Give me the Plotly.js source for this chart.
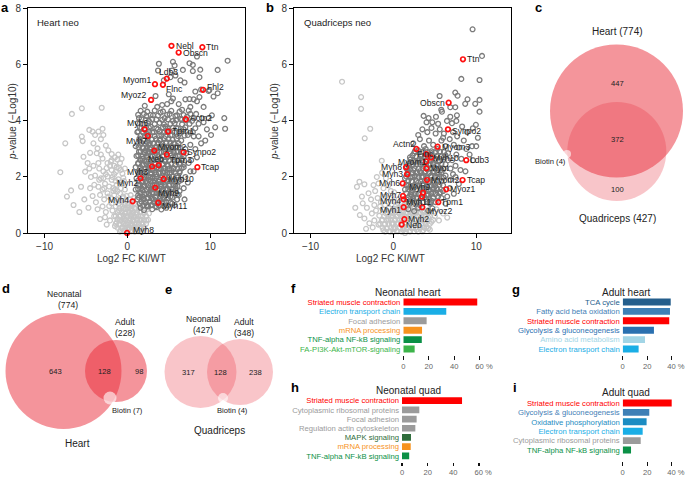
<!DOCTYPE html>
<html><head><meta charset="utf-8">
<script src="https://cdn.plot.ly/plotly-3.0.1.min.js"></script>
<style>body{margin:0;background:#fff}#chart{width:685px;height:477px}</style>
</head><body><div id="chart"></div>
<script>
const FONT = 'Liberation Sans, Arial, Helvetica, sans-serif';
const W = 685, H = 477;
const X = p => p / W, Y = p => 1 - p / H;

// ---------- Panel a: Heart neo volcano ----------
const aNs = [[-5.5,4.45],[-3.1,4.47],[-6.7,4.25],[-4.6,3.68],[-4.2,3.62],[-5.5,3.44],[-5.4,3.28],[-3.9,3.5],[-3.5,3.62],[-3.2,3.35],[-2.9,3.5],[-3.0,3.72],[-7.5,3.2],[-4.1,3.2],[-3.6,3.02],[-2.6,3.12],[-2.3,2.95],[-3.7,2.85],[-1.9,2.82],[-1.5,2.7],[-1.2,2.62],[-2.0,2.55],[-0.9,2.5],[-1.6,2.4],[-8.1,2.17],[-5.1,2.19],[-4.6,2.3],[-3.4,2.3],[-2.9,2.2],[-2.5,2.32],[-1.9,2.25],[-1.4,2.18],[-1.0,2.32],[-0.6,2.12],[-3.9,2.05],[-3.2,1.95],[-2.4,2.02],[-1.9,1.9],[-1.1,1.92],[-0.5,1.97],[-5.6,1.65],[-4.5,1.6],[-4.0,1.72],[-3.5,1.65],[-3.0,1.55],[-2.7,1.76],[-2.2,1.66],[-1.7,1.6],[-1.3,1.72],[-0.8,1.6],[-0.3,1.55],[-7.3,1.3],[-6.8,1.52],[-5.2,1.2],[-4.2,1.32],[-3.8,1.1],[-3.3,1.36],[-2.8,1.2],[-2.4,1.42],[-2.0,1.25],[-1.6,1.35],[-1.2,1.2],[-0.9,1.42],[-0.5,1.25],[-0.1,1.32],[0.3,1.2],[-4.7,0.9],[-3.6,0.85],[-3.0,0.95],[-2.6,0.75],[-2.2,0.96],[-1.8,0.8],[-1.4,0.95],[-1.0,0.8],[-0.6,0.95],[-0.2,0.85],[0.2,0.92],[0.6,0.8],[1.0,0.86],[-3.3,0.5],[-2.7,0.56],[-2.1,0.45],[-1.6,0.6],[-1.2,0.5],[-0.8,0.62],[-0.4,0.5],[0.0,0.56],[0.4,0.5],[0.8,0.57],[1.2,0.5],[1.6,0.6],[-1.5,0.25],[-1.0,0.3],[-0.6,0.2],[-0.2,0.3],[0.2,0.2],[0.6,0.3],[1.0,0.2],[1.4,0.3],[1.8,0.36],[-0.8,0.1],[-0.3,0.08],[0.1,0.12],[0.5,0.1],[0.9,0.13],[1.3,0.1],[-1.9,1.06],[-2.5,0.3],[1.5,0.95],[2.0,0.72],[-4.8,2.5],[-5.3,2.72],[-4.5,2.86],[-3.0,2.66],[-2.4,2.5],[-3.2,2.8],[-6.5,1.0],[-5.8,0.75],[-0.3,0.7],[0.8,1.05],[-0.5,0.4],[1.1,0.66],[0.5,0.7],[-1.1,1.05],[-0.4,1.05],[-0.7,0.75],[0.2,0.36],[1.6,0.15],[2.0,0.22],[2.3,0.45],[2.6,0.7],[2.4,0.95],[-1.3,0.38],[-0.9,0.45],[0.0,0.2],[0.35,0.62],[0.7,0.44],[1.1,0.35],[1.45,0.48],[-0.15,0.6],[-1.7,1.5],[-2.6,2.1],[-1.2,1.5],[-3.5,2.5],[-0.6,1.75],
[-1.8,2.0],[-1.4,1.85],[-0.9,1.8],[-0.4,1.85],[-1.6,2.1],[-0.8,2.25],[-0.3,2.3],[-1.3,2.35],[-0.7,2.65],[-1.1,2.8],[-0.5,1.3],[-0.1,1.15],[0.4,1.35],[-0.3,1.0],[0.1,1.0],[0.5,1.0],[0.8,1.25],[-1.5,1.55],[-0.9,1.15],[-2.3,1.3],[-2.8,1.6],[-2.1,2.4],[-1.9,2.6],[-3.4,1.9],[-2.9,1.95],[-4.1,2.4],[-4.4,2.0]];
const aNsCore = [[-0.9,0.05],[-0.45,0.06],[0.0,0.04],[0.45,0.06],[0.9,0.05],[1.35,0.06],[1.8,0.05],
[-1.2,0.19],[-0.7,0.17],[-0.25,0.19],[0.25,0.17],[0.7,0.19],[1.15,0.17],[1.6,0.19],[2.05,0.17],
[-1.4,0.33],[-0.95,0.31],[-0.45,0.33],[0.0,0.31],[0.45,0.33],[0.9,0.31],[1.35,0.33],[1.8,0.31],[2.25,0.33],
[-1.15,0.47],[-0.7,0.45],[-0.2,0.47],[0.25,0.45],[0.7,0.47],[1.15,0.45],[1.6,0.47],[2.05,0.45],[2.5,0.47],
[-1.4,0.61],[-0.95,0.59],[-0.45,0.61],[0.0,0.59],[0.45,0.61],[0.9,0.59],[1.35,0.61],[1.8,0.59],[2.25,0.61],
[-1.15,0.75],[-0.7,0.73],[-0.2,0.75],[0.25,0.73],[0.7,0.75],[1.15,0.73],[1.6,0.75],[2.05,0.73],
[-0.95,0.89],[-0.45,0.87],[0.0,0.89],[0.45,0.87],[0.9,0.89],[1.35,0.87]];
const aSig = [[12.1,6.15],[3.8,6.04],[5.5,6.11],[5.7,5.98],[7.5,6.06],[7.9,6.0],[8.4,6.3],[3.7,5.8],[5.4,5.8],[6.7,5.82],[7.9,5.78],[8.8,5.83],[10.9,5.82],[5.2,5.56],[5.8,5.62],[6.4,5.45],[6.9,5.37],[8.7,5.56],[4.4,5.45],[8.2,5.05],[8.9,5.12],[9.9,5.1],[10.9,4.99],[10.4,4.87],[9.8,5.07],[3.4,4.89],[5.0,4.95],[5.5,4.8],[5.3,4.7],[7.0,4.77],[7.5,4.78],[8.0,4.77],[8.4,4.7],[8.7,4.85],[2.1,4.54],[3.6,4.5],[4.2,4.57],[4.8,4.6],[6.2,4.6],[6.6,4.4],[7.6,4.5],[9.2,4.5],[10.6,3.77],[11.8,3.72],[11.7,4.1],[10.1,3.5],[9.6,3.7],[10.2,4.2],[9.0,4.1],[8.6,3.9],
[1.4,4.1],[2.0,4.25],[2.6,4.0],[3.1,4.2],[3.5,4.05],[4.0,4.3],[4.5,4.1],[5.1,4.25],[5.5,4.0],[6.0,4.2],[6.6,4.05],[7.2,4.15],[7.8,4.0],[8.3,4.25],[9.2,3.95],[9.8,4.1],
[1.2,3.6],[1.7,3.75],[2.3,3.55],[2.8,3.8],[3.2,3.6],[3.7,3.7],[4.1,3.5],[4.6,3.8],[5.0,3.65],[5.4,3.5],[5.9,3.75],[6.3,3.55],[6.8,3.7],[7.3,3.5],[7.9,3.6],[8.6,3.45],[9.4,3.3],
[1.0,3.1],[1.5,3.3],[1.9,3.05],[2.4,3.25],[2.7,3.0],[3.1,3.2],[3.5,3.05],[3.9,3.3],[4.3,3.1],[4.7,3.25],[5.1,3.0],[5.6,3.2],[6.0,3.1],[6.5,3.3],[7.0,3.0],[7.6,3.15],[8.2,3.0],[8.9,3.2],
[1.1,2.75],[1.4,2.9],[1.8,2.65],[2.1,2.85],[2.5,2.7],[2.9,2.9],[3.2,2.6],[3.6,2.8],[4.0,2.65],[4.4,2.9],[4.8,2.7],[5.2,2.85],[5.7,2.6],[6.1,2.75],[6.6,2.65],[7.1,2.85],[7.7,2.6],[8.4,2.7],
[1.0,2.35],[1.3,2.5],[1.7,2.25],[2.0,2.45],[2.4,2.2],[2.7,2.4],[3.0,2.25],[3.4,2.5],[3.8,2.3],[4.2,2.45],[4.5,2.2],[4.9,2.4],[5.3,2.25],[5.8,2.45],[6.3,2.2],[6.8,2.35],[7.4,2.5],[8.0,2.2],
[1.1,1.95],[1.4,2.1],[1.7,1.85],[2.1,2.05],[2.4,1.8],[2.8,2.0],[3.1,1.85],[3.5,2.1],[3.9,1.9],[4.2,2.05],[4.6,1.8],[5.0,2.0],[5.5,1.85],[6.0,2.05],[6.5,1.9],[7.0,2.0],
[1.0,1.55],[1.3,1.7],[1.6,1.45],[1.9,1.65],[2.3,1.4],[2.6,1.6],[3.0,1.45],[3.3,1.7],[3.7,1.5],[4.1,1.65],[4.4,1.4],[4.8,1.6],[5.3,1.45],[5.8,1.65],[6.3,1.5],[6.8,1.6],
[1.2,1.2],[1.5,1.05],[1.8,1.3],[2.2,1.1],[2.5,1.25],[2.9,1.0],[3.2,1.2],[3.6,1.05],[4.0,1.3],[4.4,1.1],[4.9,1.25],[5.4,1.05],[6.0,1.2],
[1.6,0.9],[2.0,0.82],[2.5,0.95],[3.0,0.85],[3.5,0.92],[4.1,0.84],[4.7,0.9],
[1.55,3.15],[2.2,2.95],[2.6,3.15],[3.3,2.95],[3.75,3.2],[4.5,3.0],[5.3,3.1],[5.9,2.9],[1.6,2.6],[2.3,2.55],[3.05,2.75],[3.8,2.55],[4.6,2.55],[5.5,2.7],[6.4,2.5],[1.5,2.2],[2.2,2.3],[2.9,2.1],[3.6,2.35],[4.35,2.3],[5.1,2.15],[5.6,2.3],[1.9,1.95],[2.6,1.9],[3.3,1.95],[4.0,1.75],[4.8,1.9],[5.8,1.75],[1.7,1.6],[2.4,1.55],[3.1,1.6],[3.9,1.4],[4.6,1.55],[5.5,1.55],[2.0,1.2],[2.7,1.35],[3.4,1.3],[4.2,1.2],[4.7,1.35],[5.2,1.3],[1.3,1.35],[2.35,1.0],[3.8,1.0],[6.2,1.35],[7.3,1.8],[7.6,2.2],[6.9,1.2],[5.7,1.0]];
const aSigCore = [[1.45,3.37],[1.95,3.33],[2.45,3.38],[2.95,3.34],[3.45,3.36],[3.95,3.33],[4.45,3.38],[4.95,3.35],[5.45,3.33],[5.95,3.37],
[1.7,3.22],[2.2,3.18],[2.7,3.21],[3.2,3.19],[3.7,3.23],[4.2,3.18],[4.7,3.2],[5.2,3.22],[5.7,3.18],[6.2,3.2],
[1.35,3.06],[1.85,3.03],[2.35,3.07],[2.85,3.04],[3.35,3.06],[3.85,3.03],[4.35,3.07],[4.85,3.05],[5.35,3.03],[5.85,3.06],[6.35,3.04],
[1.6,2.92],[2.1,2.88],[2.6,2.91],[3.1,2.89],[3.6,2.93],[4.1,2.88],[4.6,2.9],[5.1,2.92],[5.6,2.88],[6.1,2.91],[6.6,2.89],
[1.3,2.77],[1.8,2.73],[2.3,2.76],[2.8,2.74],[3.3,2.77],[3.8,2.73],[4.3,2.76],[4.8,2.74],[5.3,2.77],[5.8,2.73],[6.3,2.76],[6.8,2.74],
[1.55,2.62],[2.05,2.58],[2.55,2.61],[3.05,2.59],[3.55,2.62],[4.05,2.58],[4.55,2.61],[5.05,2.59],[5.55,2.62],[6.05,2.58],[6.55,2.61],
[1.3,2.47],[1.8,2.43],[2.3,2.46],[2.8,2.44],[3.3,2.47],[3.8,2.43],[4.3,2.46],[4.8,2.44],[5.3,2.47],[5.8,2.43],[6.3,2.46],[6.8,2.44],
[1.55,2.32],[2.05,2.28],[2.55,2.31],[3.05,2.29],[3.55,2.32],[4.05,2.28],[4.55,2.31],[5.05,2.29],[5.55,2.32],[6.05,2.28],[6.55,2.31],
[1.3,2.17],[1.8,2.13],[2.3,2.16],[2.8,2.14],[3.3,2.17],[3.8,2.13],[4.3,2.16],[4.8,2.14],[5.3,2.17],[5.8,2.13],[6.3,2.16],
[1.55,2.02],[2.05,1.98],[2.55,2.01],[3.05,1.99],[3.55,2.02],[4.05,1.98],[4.55,2.01],[5.05,1.99],[5.55,2.02],[6.05,1.98],
[1.3,1.87],[1.8,1.83],[2.3,1.86],[2.8,1.84],[3.3,1.87],[3.8,1.83],[4.3,1.86],[4.8,1.84],[5.3,1.87],[5.8,1.83],[6.3,1.86],
[1.55,1.72],[2.05,1.68],[2.55,1.71],[3.05,1.69],[3.55,1.72],[4.05,1.68],[4.55,1.71],[5.05,1.69],[5.55,1.72],[6.05,1.68],
[1.3,1.57],[1.8,1.53],[2.3,1.56],[2.8,1.54],[3.3,1.57],[3.8,1.53],[4.3,1.56],[4.8,1.54],[5.3,1.57],[5.8,1.53],
[1.55,1.42],[2.05,1.38],[2.55,1.41],[3.05,1.39],[3.55,1.42],[4.05,1.38],[4.55,1.41],[5.05,1.39],[5.55,1.42],[6.05,1.38],
[1.4,1.27],[1.9,1.23],[2.4,1.26],[2.9,1.24],[3.4,1.27],[3.9,1.23],[4.4,1.26],[4.9,1.24],[5.4,1.27],
[1.7,1.12],[2.2,1.08],[2.7,1.11],[3.2,1.09],[3.7,1.12],[4.2,1.08],[4.7,1.11],[5.2,1.09],
[1.9,0.98],[2.4,0.96],[2.9,0.99],[3.4,0.96],[3.9,0.98],[4.4,0.96],[4.9,0.99]];
const aSigUpper = [[1.6,4.36],[2.4,4.33],[3.3,4.37],[4.3,4.34],[5.3,4.36],[6.3,4.33],[7.4,4.37],
[1.3,4.22],[2.3,4.18],[2.8,4.21],[3.7,4.19],[4.8,4.22],[5.8,4.18],[6.8,4.21],[7.6,4.25],
[1.7,4.06],[2.2,4.03],[3.0,4.07],[4.2,4.04],[4.9,4.06],[5.9,4.03],[6.4,4.07],[7.1,4.02],[8.0,4.1],
[1.25,3.92],[1.9,3.88],[2.5,3.91],[3.3,3.89],[3.9,3.93],[4.4,3.88],[5.2,3.9],[5.7,3.92],[6.6,3.88],[7.5,3.9],
[1.5,3.77],[2.1,3.73],[2.6,3.76],[3.5,3.74],[4.3,3.77],[4.9,3.73],[5.5,3.76],[6.1,3.74],[7.0,3.77],[8.2,3.74],
[1.3,3.62],[1.9,3.58],[2.6,3.61],[3.0,3.59],[3.9,3.62],[4.4,3.58],[4.8,3.61],[5.7,3.59],[6.6,3.62],[7.6,3.58],
[1.6,3.48],[2.1,3.46],[2.5,3.49],[3.3,3.46],[3.8,3.48],[4.6,3.46],[5.2,3.49],[6.1,3.46],[6.9,3.48],[8.0,3.45]];
const aHitGenes = ['Nebl','Ttn','Obscn','Ldb3','Myom1','Flnc','Fhl2','Myoz2','Actn2','Myh6','Tpm1','Myh7','Myom2','Synpo2','Tpm3','Neb','Myh3','Tcap','Myh2','Myh10','Myh9','Myh4','Myh11','Myh8'];
const aHitX = [5.32,9.05,6.19,4.76,3.33,4.29,9.13,2.86,7.06,2.06,4.92,2.46,3.25,6.79,4.76,3.77,2.98,8.45,1.59,4.37,3.37,0.63,3.73,-0.04];
const aHitY = [6.68,6.63,6.44,5.51,5.31,5.29,5.11,4.75,4.06,3.70,3.62,3.46,2.94,2.88,2.80,2.42,2.37,2.35,1.95,1.93,1.62,1.13,1.08,0.0];

// ---------- Panel b: Quadriceps neo volcano ----------
const bNs = [[-6.2,5.4],[-3.9,4.85],[-3.9,4.43],[-2.8,3.72],[-3.46,3.38],[-1.4,2.58],[-1.36,2.15],[-4.1,1.83],[-3.5,1.74],[-2.4,1.71],[-1.8,1.77],[-4.4,1.65],[-3.0,1.42],[-2.2,1.5],[-1.2,1.6],[-0.6,1.7],[-3.7,1.06],[-3.2,0.9],[-4.05,0.64],[-3.5,0.52],[-2.7,1.2],[-2.3,1.0],[-1.9,1.25],[-1.5,1.1],[-1.0,1.3],[-0.6,1.1],[-0.2,1.25],[0.2,1.1],[0.6,1.2],[1.0,1.05],[-2.6,0.7],[-2.1,0.8],[-1.7,0.62],[-1.3,0.85],[-0.9,0.7],[-0.5,0.88],[-0.1,0.72],[0.3,0.85],[0.7,0.7],[1.1,0.82],[1.5,0.7],[1.9,0.85],[2.3,0.7],[2.7,0.82],[3.1,0.68],[3.5,0.8],[-2.9,0.35],[-2.3,0.45],[-1.8,0.3],[-1.4,0.45],[-1.0,0.32],[-0.6,0.5],[-0.2,0.35],[0.2,0.5],[0.6,0.35],[1.0,0.5],[1.4,0.38],[1.8,0.52],[2.2,0.38],[2.6,0.5],[3.0,0.36],[3.4,0.52],[3.8,0.4],[4.2,0.55],[4.6,0.4],[5.0,0.6],[5.5,0.45],[-1.2,0.1],[-0.8,0.15],[-0.4,0.05],[0.0,0.15],[0.4,0.08],[0.8,0.18],[1.2,0.1],[1.6,0.2],[2.0,0.08],[2.4,0.2],[2.8,0.12],[3.2,0.22],[3.6,0.1],[4.0,0.2],[4.4,0.12],[0.5,0.6],[-0.3,0.6],[1.3,0.62],[2.1,0.6],[2.9,0.6],[3.7,0.62],[4.5,0.75],[5.2,0.85],[6.0,0.7],[6.5,0.55],[0.9,0.92],[1.7,0.95],[-2.0,2.0],[-0.9,1.95],[-3.8,1.3],[-4.6,0.9],[-3.3,0.15],[-2.5,0.2],[1.4,0.0],[0.0,0.35],[-1.6,0.95],[0.1,1.45],[-0.3,1.5]];
const bNsCore = [[-1.0,0.05],[-0.5,0.06],[0.0,0.04],[0.5,0.06],[1.0,0.05],[1.5,0.06],[2.0,0.05],[2.5,0.06],[3.0,0.05],[3.5,0.06],
[-1.3,0.19],[-0.8,0.17],[-0.3,0.19],[0.2,0.17],[0.7,0.19],[1.2,0.17],[1.7,0.19],[2.2,0.17],[2.7,0.19],[3.2,0.17],[3.7,0.19],[4.2,0.17],
[-1.6,0.33],[-1.1,0.31],[-0.6,0.33],[-0.1,0.31],[0.4,0.33],[0.9,0.31],[1.4,0.33],[1.9,0.31],[2.4,0.33],[2.9,0.31],[3.4,0.33],[3.9,0.31],[4.4,0.33],
[-1.3,0.47],[-0.8,0.45],[-0.3,0.47],[0.2,0.45],[0.7,0.47],[1.2,0.45],[1.7,0.47],[2.2,0.45],[2.7,0.47],[3.2,0.45],[3.7,0.47],[4.2,0.45],[4.8,0.47],
[-1.1,0.61],[-0.6,0.59],[-0.1,0.61],[0.4,0.59],[0.9,0.61],[1.4,0.59],[1.9,0.61],[2.4,0.59],[2.9,0.61],[3.4,0.59],[3.9,0.61],[4.4,0.59],
[-0.8,0.75],[-0.3,0.73],[0.2,0.75],[0.7,0.73],[1.2,0.75],[1.7,0.73],[2.2,0.75],[2.7,0.73],[3.2,0.75],[3.7,0.73],[4.2,0.75],
[-0.5,0.89],[0.0,0.87],[0.5,0.89],[1.0,0.87],[1.5,0.89],[2.0,0.87],[2.5,0.89],[3.0,0.87],[3.5,0.89],
[-1.0,1.0],[0.3,1.0],[1.3,1.0]];
const bSig = [[9.56,7.27],[10.7,6.32],[8.2,5.5],[10.4,5.46],[5.58,4.89],[7.47,5.01],[7.75,4.9],[8.95,4.77],[10.4,4.75],[9.88,4.61],[8.67,4.61],[10.4,4.33],[6.87,4.49],[7.47,4.49],[5.86,4.33],[5.78,4.4],[3.65,4.18],[4.25,4.1],[5.14,4.15],[6.87,4.15],[7.67,4.2],[6.47,4.0],[7.6,4.0],[7.07,3.92],[9.96,3.86],[9.6,3.74],[4.0,3.95],[4.7,3.95],[5.4,3.9],[8.3,3.8],[8.9,3.6],[10.2,3.4],[9.5,3.1],[10.0,3.1],[9.2,2.8],[8.5,3.3],
[3.0,3.5],[3.5,3.7],[4.1,3.6],[4.6,3.75],[5.1,3.55],[5.6,3.7],[6.1,3.55],[7.2,3.6],[7.7,3.45],
[2.4,3.2],[3.2,3.35],[3.7,3.1],[4.3,3.3],[4.8,3.15],[5.8,3.3],[6.3,3.1],[6.8,3.35],[7.3,3.15],[7.9,3.05],[8.8,3.0],
[2.0,2.7],[2.5,2.85],[3.2,2.65],[3.6,2.9],[4.6,2.85],[5.1,2.65],[5.6,2.9],[6.1,2.7],[6.6,2.85],[7.1,2.6],[7.6,2.8],[8.2,2.65],[9.6,2.6],
[1.6,2.35],[2.0,2.5],[2.4,2.25],[2.8,2.45],[3.2,2.2],[3.6,2.4],[4.5,2.45],[4.9,2.2],[5.3,2.4],[5.8,2.25],[6.3,2.45],[6.9,2.3],[7.5,2.4],[8.1,2.25],[8.7,2.2],
[1.4,1.95],[1.8,2.1],[2.2,1.85],[2.6,2.05],[3.0,1.8],[3.4,2.0],[3.8,1.85],[4.5,2.05],[4.9,1.8],[5.3,2.0],[5.8,1.85],[6.3,2.05],[6.9,1.9],[7.5,2.0],[7.9,1.75],
[1.4,1.55],[1.8,1.7],[2.2,1.45],[2.6,1.65],[3.0,1.4],[3.3,1.6],[4.0,1.5],[4.4,1.65],[4.8,1.45],[5.2,1.6],[5.7,1.45],[6.0,1.7],[6.8,1.6],[7.3,1.4],
[1.6,1.2],[2.0,1.05],[2.4,1.25],[2.8,1.1],[3.2,1.0],[4.0,1.2],[4.4,1.05],[4.8,1.25],[5.1,1.1],[5.8,1.25],[6.3,1.05],
[1.8,0.85],[2.5,0.78],[3.0,0.9],[4.2,0.8],[4.7,0.88],
[1.7,2.25],[2.3,2.0],[2.9,2.15],[3.5,1.75],[4.1,1.95],[4.6,2.3],[5.5,2.1],[2.1,1.6],[2.7,1.4],[3.6,1.55],[4.2,1.35],[4.9,1.6],[5.4,1.3],[2.3,1.15],[3.5,1.25],[4.6,1.15],[1.9,2.4],[2.7,2.55],[3.4,2.6],[4.1,2.75],[4.8,2.5],[5.5,2.55],[3.0,2.95],[3.9,3.0],[5.3,3.0],[6.0,3.4],[2.2,1.35],[3.9,2.2],[6.0,1.5],[6.5,1.3],[7.2,2.1],[6.6,2.6]];
const bSigCore = [[2.6,2.92],[3.1,2.88],[3.6,2.91],[4.1,2.89],[4.6,2.92],[5.1,2.88],[5.6,2.91],[6.1,2.89],
[2.3,2.77],[2.8,2.73],[3.3,2.76],[3.8,2.74],[4.3,2.77],[4.8,2.73],[5.3,2.76],[5.8,2.74],[6.3,2.77],
[2.05,2.62],[2.55,2.58],[3.05,2.61],[3.55,2.59],[4.05,2.62],[4.55,2.58],[5.05,2.61],[5.55,2.59],[6.05,2.62],
[1.8,2.47],[2.3,2.43],[2.8,2.46],[3.3,2.44],[3.8,2.47],[4.3,2.43],[4.8,2.46],[5.3,2.44],[5.8,2.47],
[1.55,2.32],[2.05,2.28],[2.55,2.31],[3.05,2.29],[3.55,2.32],[4.05,2.28],[4.55,2.31],[5.05,2.29],[5.55,2.32],[6.05,2.28],
[1.8,2.17],[2.3,2.13],[2.8,2.16],[3.3,2.14],[3.8,2.17],[4.3,2.13],[4.8,2.16],[5.3,2.14],[5.8,2.17],
[1.55,2.02],[2.05,1.98],[2.55,2.01],[3.05,1.99],[3.55,2.02],[4.05,1.98],[4.55,2.01],[5.05,1.99],[5.55,2.02],[6.05,1.98],
[1.8,1.87],[2.3,1.83],[2.8,1.86],[3.3,1.84],[3.8,1.87],[4.3,1.83],[4.8,1.86],[5.3,1.84],[5.8,1.87],
[1.55,1.72],[2.05,1.68],[2.55,1.71],[3.05,1.69],[3.55,1.72],[4.05,1.68],[4.55,1.71],[5.05,1.69],[5.55,1.72],
[1.8,1.57],[2.3,1.53],[2.8,1.56],[3.3,1.54],[3.8,1.57],[4.3,1.53],[4.8,1.56],[5.3,1.54],
[1.55,1.42],[2.05,1.38],[2.55,1.41],[3.05,1.39],[3.55,1.42],[4.05,1.38],[4.55,1.41],[5.05,1.39],[5.55,1.42],
[1.8,1.27],[2.3,1.23],[2.8,1.26],[3.3,1.24],[3.8,1.27],[4.3,1.23],[4.8,1.26],
[2.05,1.12],[2.55,1.08],[3.05,1.11],[3.55,1.09],[4.05,1.12],[4.55,1.08]];
const bHitGenes = ['Ttn','Obscn','Synpo2','Actn2','Myom3','Flnc','Myh10','Myom1','Myot','Ldb3','Myh8','Myh3','Myh6','Myom2','Tcap','Myoz1','Myh9','Myh7','Myh4','Myh11','Tpm1','Myh1','Myoz2','Myh2','Neb'];
const bHitX = [8.4,6.67,6.59,2.77,5.34,3.98,4.54,3.94,3.98,8.8,1.53,1.65,1.12,4.06,8.35,6.39,3.58,1.16,1.24,3.45,5.42,1.24,3.49,1.33,1.0];
const bHitY = [6.2,4.65,3.7,3.0,3.08,2.81,2.69,2.55,2.31,2.6,2.35,2.1,1.77,1.89,1.89,1.56,1.44,1.32,1.2,1.3,1.1,0.92,0.92,0.49,0.3];

// ---------- Venn diagrams ----------
const vennC_totals = [774, 427];          // Heart, Quadriceps
const vennC_regions = [447, 372, 100];    // heart only, both, quad only
const vennC_biotin = 4;
const vennD_totals = [774, 228];          // Neonatal, Adult (heart)
const vennD_regions = [643, 128, 98];
const vennD_biotin = 7;
const vennE_totals = [427, 348];          // Neonatal, Adult (quadriceps)
const vennE_regions = [317, 128, 238];
const vennE_biotin = 4;

// ---------- Pathway bar charts (%) ----------
const fCats = ['Striated muscle contraction','Electron transport chain','Focal adhesion','mRNA processing','TNF-alpha NF-kB signaling','FA-PI3K-Akt-mTOR-signaling'];
const fVals = [58, 33.7, 18.3, 14.7, 14.5, 8.9];
const gCats = ['TCA cycle','Fatty acid beta oxidation','Striated muscle contraction','Glycolysis & gluconeogenesis','Amino acid metabolism','Electron transport chain'];
const gVals = [39.2, 38.6, 38, 25.5, 18.2, 13];
const hCats = ['Striated muscle contraction','Cytoplasmic ribosomal proteins','Focal adhesion','Regulation actin cytoskeleton','MAPK signaling','mRNA processing','TNF-alpha NF-kB signaling'];
const hVals = [46.8, 13.5, 11.4, 10.4, 7, 6.8, 5.6];
const iCats = ['Striated muscle contraction','Glycolysis & gluconeogenesis','Oxidative phosphorylation','Electron transport chain','Cytoplasmic ribosomal proteins','TNF-alpha NF-kB signaling'];
const iVals = [40, 21.7, 19.5, 16.3, 14.7, 6.8];

// ---------- styles ----------
const pathwayColor = {
  'Striated muscle contraction':'#ff0000','Electron transport chain':'#1aaee6','Focal adhesion':'#9b9b9b',
  'mRNA processing':'#f7931e','TNF-alpha NF-kB signaling':'#0b9046','FA-PI3K-Akt-mTOR-signaling':'#3cb44a',
  'TCA cycle':'#245e8c','Fatty acid beta oxidation':'#3f80b6','Glycolysis & gluconeogenesis':'#2a70b0',
  'Amino acid metabolism':'#a2d5e6','Cytoplasmic ribosomal proteins':'#9b9b9b','Regulation actin cytoskeleton':'#9b9b9b',
  'MAPK signaling':'#2f6d3b','Oxidative phosphorylation':'#1c8cc2'
};
const pathwayColorI = Object.assign({}, pathwayColor, {'Glycolysis & gluconeogenesis':'#3f80b6'});
const aLab = {Nebl:['left',4,0],Ttn:['left',3,0],Obscn:['left',3,0],Ldb3:['center',2,-7],Myom1:['right',-3,-4],Flnc:['left',2,4],Fhl2:['left',3,-3],Myoz2:['right',-3,-5],Actn2:['left',3,-1],Myh6:['center',-7,-6],Tpm1:['left',3,-1],Myh7:['right',0,5],Myom2:['left',3,-4],Synpo2:['left',2,0],Tpm3:['left',2,5],Neb:['center',-3,-6],Myh3:['right',-3,5],Tcap:['left',3,0],Myh2:['right',-2,5],Myh10:['left',3,0],Myh9:['left',2,5],Myh4:['right',-3,-1],Myh11:['left',3,3],Myh8:['left',5,-3]};
const bLab = {Ttn:['left',3,0],Obscn:['right',-3,0],Synpo2:['left',3,2],Actn2:['right',0,-5],Myom3:['left',3,0],Flnc:['center',-1,0],Myh10:['left',1,0],Myom1:['right',1,0],Myot:['left',3,0],Ldb3:['left',3,0],Myh8:['right',-3,0],Myh3:['right',-3,0],Myh6:['right',-2,0],Myom2:['left',3,0],Tcap:['left',3,0],Myoz1:['left',3,0],Myh9:['center',-4,-6],Myh7:['right',-1,-1],Myh4:['right',-2,2],Myh11:['center',-3,5],Tpm1:['left',2,0],Myh1:['right',-2,3],Myoz2:['left',4,4],Myh2:['left',3,0],Neb:['left',3,0]};

const traces = [];
function volcano(ns, sig, hx, hy, xa, ya) {
  traces.push({type:'scatter', mode:'markers', x:ns.map(p=>p[0]), y:ns.map(p=>p[1]), xaxis:xa, yaxis:ya,
    marker:{symbol:'circle-open', size:4.8, color:'#c6c6c6', line:{width:1.3}}, hoverinfo:'skip', cliponaxis:false});
  traces.push({type:'scatter', mode:'markers', x:sig.map(p=>p[0]), y:sig.map(p=>p[1]), xaxis:xa, yaxis:ya,
    marker:{symbol:'circle-open', size:4.8, color:'#7b7b7b', line:{width:1.3}}, hoverinfo:'skip', cliponaxis:false});
  traces.push({type:'scatter', mode:'markers', x:hx, y:hy, xaxis:xa, yaxis:ya,
    marker:{symbol:'circle-open', size:4.6, color:'#ff1010', line:{width:1.7}}, hoverinfo:'skip', cliponaxis:false});
}
volcano(aNs.concat(aNsCore), aSig.concat(aSigCore, aSigUpper), aHitX, aHitY, 'x', 'y');
volcano(bNs.concat(bNsCore), bSig.concat(bSigCore), bHitX, bHitY, 'x2', 'y2');

function bars(cats, vals, cmap, xa, ya) {
  traces.push({type:'bar', orientation:'h', x:vals, y:cats, xaxis:xa, yaxis:ya,
    marker:{color:cats.map(c=>cmap[c]), line:{width:0}}, hoverinfo:'skip'});
}
bars(fCats, fVals, pathwayColor, 'x3', 'y3');
bars(gCats, gVals, pathwayColor, 'x4', 'y4');
bars(hCats, hVals, pathwayColor, 'x5', 'y5');
bars(iCats, iVals, pathwayColorI, 'x6', 'y6');

// ---------- axes ----------
const volX = (d0, d1, anchor) => ({domain:[X(d0), X(d1)], range:[-12, 14.2], anchor, tickvals:[-10,0,10],
  ticks:'outside', ticklen:4, tickcolor:'#000', showline:true, mirror:true, linecolor:'#000', linewidth:1,
  showgrid:false, zeroline:false, tickfont:{family:FONT, size:10, color:'#333'}});
const volY = (anchor) => ({domain:[Y(233), Y(8)], range:[0, 8.03], anchor, tickvals:[0,2,4,6,8],
  ticks:'outside', ticklen:4, tickcolor:'#000', showline:true, mirror:true, linecolor:'#000', linewidth:1,
  showgrid:false, zeroline:false, tickfont:{family:FONT, size:10, color:'#333'}});
const NB = '\u00a0\u00a0\u00a0\u00a0';
const barX = (d0, max, pxPerUnit, pos, tv, tt) => ({domain:[X(d0), X(d0 + max * pxPerUnit)], range:[0, max],
  anchor:'free', position:Y(pos), tickvals:tv, ticktext:tt, ticks:'outside', ticklen:3.5, tickwidth:1.4, tickcolor:'#111',
  showline:false, showgrid:false, zeroline:false, tickfont:{family:FONT, size:7.6, color:'#666'}, fixedrange:true});
const barY = (cats, cmap, top, bottom, anchor) => ({domain:[Y(bottom), Y(top)], type:'category',
  range:[cats.length - 0.5, -0.5], anchor, tickvals:cats,
  ticktext:cats.map(c => '<span style="color:' + cmap[c] + '">' + c + '</span>'),
  ticks:'', showline:false, showgrid:false, zeroline:false, ticklabelstandoff:2,
  tickfont:{family:FONT, size:7.7}, fixedrange:true});

// ---------- shapes (Venn) ----------
const circ = (cx, cy, r, fill) => ({type:'circle', xref:'paper', yref:'paper', x0:X(cx - r), x1:X(cx + r),
  y0:Y(cy + r), y1:Y(cy - r), fillcolor:fill, line:{width:0}, layer:'above'});
const shapes = [
  circ(616.5, 111, 66.5, '#f4959b'),
  circ(616.8, 151.5, 49.5, 'rgba(230,48,62,0.28)'),
  circ(567, 154, 4, 'rgba(255,255,255,0.6)'),
  circ(63.5, 371, 58, 'rgba(233,42,56,0.5)'),
  circ(116, 371, 31, 'rgba(233,42,56,0.5)'),
  circ(110, 398, 6.5, 'rgba(255,255,255,0.6)'),
  circ(200.5, 372, 36, 'rgba(236,62,76,0.3)'),
  circ(240, 372, 33, 'rgba(236,62,76,0.3)'),
  circ(223, 398, 5, 'rgba(255,255,255,0.6)')
];

// ---------- annotations ----------
const ann = [];
const txt = (px, py, text, size, opts) => ann.push(Object.assign({xref:'paper', yref:'paper', x:X(px), y:Y(py), text,
  showarrow:false, font:{family:FONT, size, color:'#222'}, xanchor:'center', yanchor:'middle', borderpad:0}, opts || {}));

[['a',5,7],['b',270,7],['c',538,7],['d',6,288],['e',168,289],['f',293,288],['g',516,289],['h',295,387],['i',515,387]]
  .forEach(l => txt(l[1], l[2], '<b>' + l[0] + '</b>', 13, {font:{family:FONT, size:13, color:'#000'}}));

txt(36, 23, 'Heart neo', 9.5, {xanchor:'left'});
txt(303, 23, 'Quadriceps neo', 9.5, {xanchor:'left'});
txt(131, 258, 'Log2 FC KI/WT', 10, {font:{family:FONT, size:10, color:'#333'}});
txt(390, 258, 'Log2 FC KI/WT', 10, {font:{family:FONT, size:10, color:'#333'}});
txt(12, 122, '<i>p</i>-value (\u2212Log10)', 10, {textangle:-90, font:{family:FONT, size:10, color:'#333'}});
txt(274, 122, '<i>p</i>-value (\u2212Log10)', 10, {textangle:-90, font:{family:FONT, size:10, color:'#333'}});

function hitLabels(genes, hx, hy, lab, xa, ya) {
  genes.forEach((g, i) => {
    const s = lab[g] || ['left', 3, 0];
    ann.push({xref:xa, yref:ya, x:hx[i], y:hy[i], text:g, showarrow:false, xanchor:s[0], yanchor:'middle',
      xshift:s[1], yshift:-s[2], borderpad:0, font:{family:FONT, size:8.6, color:'#222'}});
  });
}
hitLabels(aHitGenes, aHitX, aHitY, aLab, 'x', 'y');
hitLabels(bHitGenes, bHitX, bHitY, bLab, 'x2', 'y2');

// Venn c
txt(617, 31, 'Heart (' + vennC_totals[0] + ')', 10);
txt(617, 83.5, String(vennC_regions[0]), 7.6);
txt(617, 139, String(vennC_regions[1]), 7.6);
txt(617, 189.5, String(vennC_regions[2]), 7.6);
txt(617, 218.5, 'Quadriceps (' + vennC_totals[1] + ')', 10);
txt(550, 161.5, 'Biotin (' + vennC_biotin + ')', 7.6);
// Venn d
txt(64, 294, 'Neonatal', 8.6);
txt(68, 305, '(' + vennD_totals[0] + ')', 8.6);
txt(125, 322, 'Adult', 8.6);
txt(125, 333, '(' + vennD_totals[1] + ')', 8.6);
txt(55, 371, String(vennD_regions[0]), 7.6);
txt(104, 371, String(vennD_regions[1]), 7.6);
txt(138.5, 371, String(vennD_regions[2]), 7.6);
txt(128, 410, 'Biotin (' + vennD_biotin + ')', 7.6);
txt(77, 443, 'Heart', 10);
// Venn e
txt(202.5, 319, 'Neonatal', 8.6);
txt(202.5, 330, '(' + vennE_totals[0] + ')', 8.6);
txt(244, 322, 'Adult', 8.6);
txt(244, 333, '(' + vennE_totals[1] + ')', 8.6);
txt(188, 372, String(vennE_regions[0]), 7.6);
txt(220, 372, String(vennE_regions[1]), 7.6);
txt(256, 372, String(vennE_regions[2]), 7.6);
txt(232, 410.5, 'Biotin (' + vennE_biotin + ')', 7.6);
txt(219, 430, 'Quadriceps', 10);

txt(408, 292, 'Neonatal heart', 10);
txt(626, 292, 'Adult heart', 10);
txt(408, 390, 'Neonatal quad', 10);
txt(626, 392, 'Adult quad', 10);

const layout = {
  width:W, height:H, margin:{l:0, r:0, t:0, b:0}, showlegend:false,
  paper_bgcolor:'#fff', plot_bgcolor:'rgba(0,0,0,0)', font:{family:FONT, color:'#222'},
  bargap:0.27,
  xaxis:volX(28, 245, 'y'), yaxis:volY('x'),
  xaxis2:volX(294, 511, 'y2'), yaxis2:volY('x2'),
  xaxis3:barX(403.3, 62, 1.275, 355, [0,20,40,60], ['0','20','40', NB + '60 %']),
  yaxis3:barY(fCats, pathwayColor, 297.3, 353.7, 'x3'),
  xaxis4:barX(622.7, 43, 1.225, 355, [0,20,40], ['0','20', NB + '40 %']),
  yaxis4:barY(gCats, pathwayColor, 297.3, 353.7, 'x4'),
  xaxis5:barX(402, 62, 1.283, 461.5, [0,20,40,60], ['0','20','40', NB + '60 %']),
  yaxis5:barY(hCats, pathwayColor, 396, 460.5, 'x5'),
  xaxis6:barX(622.7, 43, 1.225, 461, [0,20,40], ['0','20', NB + '40 %']),
  yaxis6:barY(iCats, pathwayColorI, 398.3, 454.7, 'x6'),
  shapes, annotations:ann
};
Plotly.newPlot('chart', traces, layout, {staticPlot:true, displayModeBar:false});
</script></body></html>
